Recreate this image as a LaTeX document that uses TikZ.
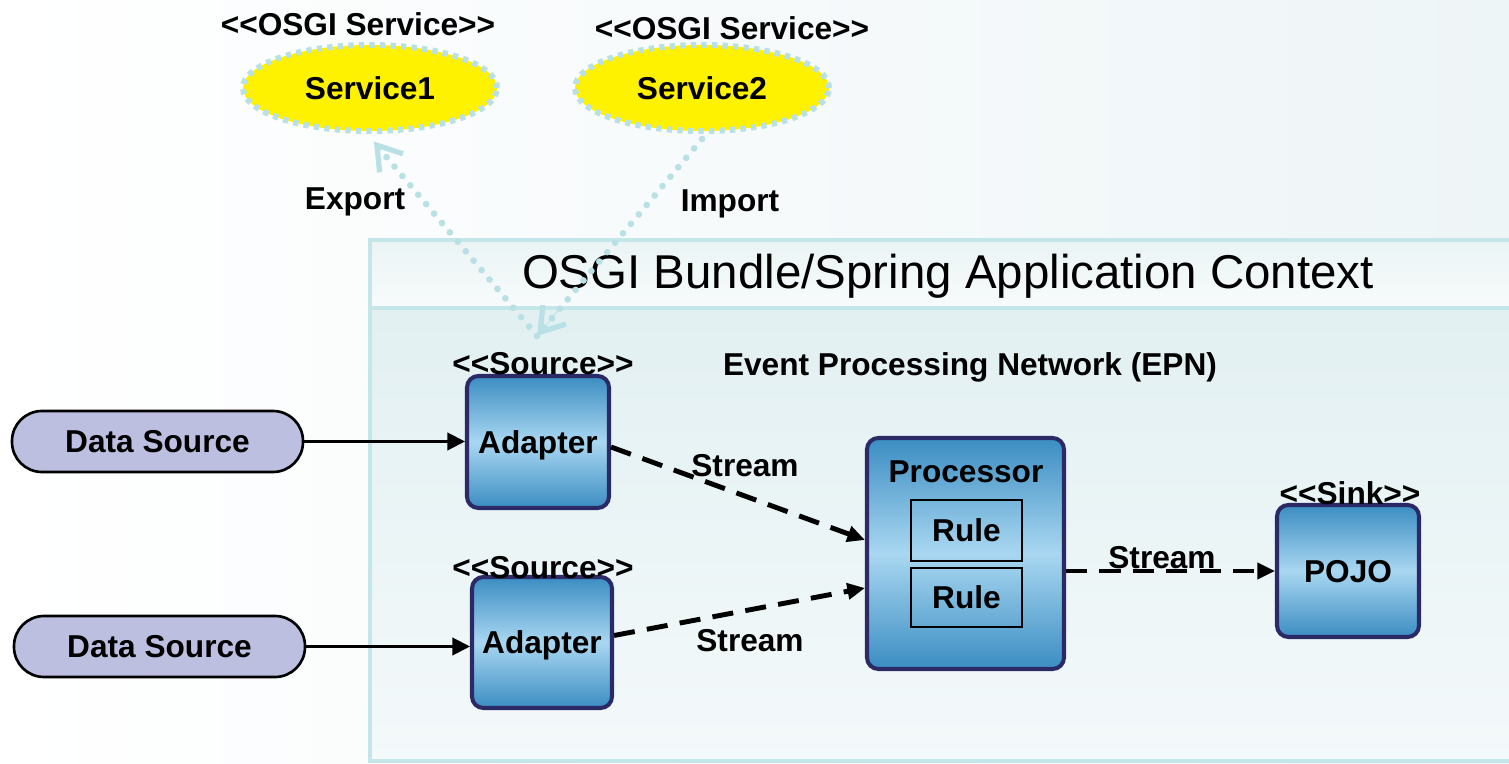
\documentclass[tikz,border=0pt]{standalone}
\usepackage{fontspec}
\setmainfont{Liberation Sans}
\usetikzlibrary{shapes.geometric,arrows.meta,calc}
\definecolor{osgiline}{HTML}{B8E0E5}
\definecolor{lav}{HTML}{BDBFE1}
\definecolor{boxline}{HTML}{2B2A66}
\definecolor{boxdark}{HTML}{3B8DC2}
\definecolor{boxlight}{HTML}{A9D7F1}
\definecolor{ctxline}{HTML}{C5E6E9}
\definecolor{ctxtop}{HTML}{E2F0F2}
\definecolor{ctxbot}{HTML}{F4F9FA}
\definecolor{bandtop}{HTML}{EAF4F5}
\definecolor{bandbot}{HTML}{F8FBFB}
\definecolor{bgright}{HTML}{EEF5F7}
\newcommand{\stereo}[1]{{<}{<}#1{>}{>}}
\begin{document}
\begin{tikzpicture}[
  txt/.style={font=\bfseries\fontsize{18}{21}\selectfont, inner sep=0pt},
  svc/.style={ellipse, fill=yellow, draw=osgiline, line width=3.4pt,
    dash pattern=on 3pt off 3pt, minimum width=5.08cm, minimum height=1.72cm,
    inner sep=0pt, font=\bfseries\fontsize{18}{21}\selectfont},
  comp/.style={draw=boxline, line width=2.3pt, rounded corners=6.5pt,
    top color=boxdark, bottom color=boxdark, middle color=boxlight,
    inner sep=0pt, text depth=0pt, font=\bfseries\fontsize{18}{21}\selectfont},
  rulebox/.style={draw=black, line width=1.2pt, inner sep=0pt,
    minimum width=2.22cm, font=\bfseries\fontsize{18}{21}\selectfont},
  dsrc/.style={draw=black, line width=1.5pt, fill=lav, rounded corners=0.6cm,
    minimum width=5.82cm, minimum height=1.22cm, inner sep=0pt,
    font=\bfseries\fontsize{18}{21}\selectfont},
  feed/.style={draw=black, line width=1.2pt, -{Triangle[length=10pt,width=10pt]}},
  stream/.style={draw=black, line width=2.8pt, dash pattern=on 12pt off 7pt,
    -{Triangle[length=10pt,width=9pt]}},
  osgi/.style={draw=osgiline, line width=3.8pt, line cap=round,
    dash pattern=on 0pt off 7pt},
  osgitip/.style={-{Straight Barb[length=13pt,width=17pt,line width=3pt]}}
]
% background
\fill[left color=white, right color=bgright] (0,0) rectangle (30.18,-15.28);
\useasboundingbox (0,0) rectangle (30.18,-15.28);

% container
\begin{scope}
\clip (0,0) rectangle (30.18,-15.28);
\draw[ctxline, line width=2.8pt, top color=ctxtop, bottom color=ctxbot] (7.4,-6.16) rectangle (30.6,-15.22);
\draw[ctxline, line width=2.8pt, top color=bandtop, bottom color=bandbot] (7.4,-4.8) rectangle (30.6,-6.16);
\end{scope}
\node[font=\fontsize{27}{32}\selectfont, inner sep=0pt] (title) at (18.96,-5.52) {OSGI Bundle/Spring Application Context};
\node[txt] (epn) at (19.4,-7.34) {Event Processing Network (EPN)};

% services
\node[svc] (s1) at (7.4,-1.76) {Service1};
\node[svc] (s2) at (14.04,-1.76) {Service2};
\node[txt] (s1lbl) at (7.16,-0.48) {\stereo{OSGI Service}};
\node[txt] (s2lbl) at (14.64,-0.56) {\stereo{OSGI Service}};

% components
\node[comp, minimum width=2.84cm, minimum height=2.64cm] (ad1) at (10.76,-8.84) {Adapter};
\node[comp, minimum width=2.8cm, minimum height=2.62cm] (ad2) at (10.84,-12.85) {Adapter};
\node[txt] (src1) at (10.86,-7.28) {\stereo{Source}};
\node[txt] (src2) at (10.86,-11.36) {\stereo{Source}};

\node[comp, minimum width=3.94cm, minimum height=4.62cm] (proc) at (19.31,-11.07) {};
\node[txt] (proctxt) at (19.32,-9.44) {Processor};
\node[rulebox, minimum height=1.22cm] (r1) at (19.33,-10.61) {Rule};
\node[rulebox, minimum height=1.18cm] (r2) at (19.33,-11.95) {Rule};

\node[comp, minimum width=2.84cm, minimum height=2.64cm] (pojo) at (26.96,-11.42) {POJO};
\node[txt] (sink) at (27.0,-9.86) {\stereo{Sink}};

% data sources
\node[dsrc] (ds1) at (3.15,-8.83) {Data Source};
\node[dsrc] (ds2) at (3.19,-12.93) {Data Source};

% feeds
\draw[feed] (ds1.east) -- (ds1.east -| ad1.west);
\draw[feed] (ds2.east) -- (ds2.east -| ad2.west);

% streams
\coordinate (pin1) at ($(proc.west)+(0,0.27)$);
\coordinate (pin2) at ($(proc.west)+(0,-0.69)$);
\coordinate (aout2) at ($(ad2.east)+(0,0.14)$);
\draw[stream] ($(ad1.east)+(0,-0.1)$) -- (pin1);
\draw[stream] (aout2) -- (pin2);
\draw[stream] (pojo.west -| proc.east) -- (pojo.west);
\node[txt] (st1) at (14.9,-9.32) {Stream};
\node[txt] (st2) at (15.0,-12.82) {Stream};
\node[txt] (st3) at (23.24,-11.16) {Stream};

% export / import
\coordinate (exA) at (10.74,-6.72);
\draw[osgi] (exA) -- ($(s1.south)+(0.06,-0.14)$);
\draw[osgitip, draw=osgiline, line width=0pt] ($(s1.south)+(0.2,-0.3)$) -- ($(s1.south)+(0.08,-0.15)$);
\draw[osgi] ($(s2.south)+(0,-0.1)$) -- (exA);
\draw[osgitip, draw=osgiline, line width=0pt] ($(exA)!0.12!(s2.south)$) -- (exA);
\node[txt] (exp) at (7.1,-4.04) {Export};
\node[txt] (imp) at (14.6,-4.08) {Import};
\end{tikzpicture}
\end{document}
